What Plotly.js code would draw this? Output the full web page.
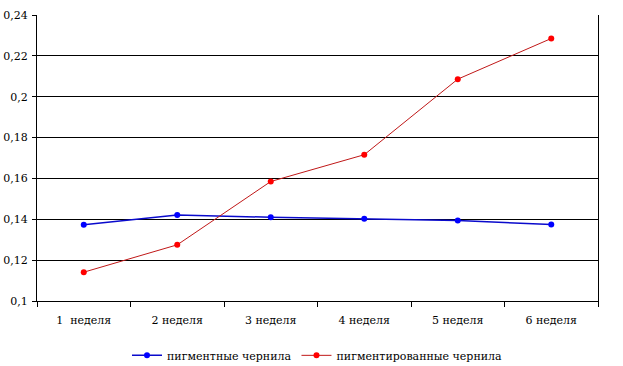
<!DOCTYPE html>
<html>
<head>
<meta charset="utf-8">
<script src="https://cdn.plot.ly/plotly-3.0.1.min.js"></script>
<style>html,body{margin:0;padding:0;background:#fff;}#chart{width:623px;height:366px;}</style>
</head>
<body>
<div id="chart"></div>
<script>
var categories = ["1\u00a0 неделя", "2 неделя", "3 неделя", "4 неделя", "5 неделя", "6 неделя"];
var pigmentInk = [0.1373, 0.1421, 0.1410, 0.1403, 0.1394, 0.1374];
var pigmentedInk = [0.1141, 0.1275, 0.1585, 0.1716, 0.2086, 0.2285];
var seriesNames = ["пигментные чернила", "пигментированные чернила"];
var yTickVals = [0.1, 0.12, 0.14, 0.16, 0.18, 0.2, 0.22, 0.24];
var yTickText = ["0,1", "0,12", "0,14", "0,16", "0,18", "0,2", "0,22", "0,24"];

var font = {family: "DejaVu Serif, Liberation Serif, Times New Roman, serif", size: 11, color: "#000"};

var traces = [
  {x: categories, y: pigmentInk, name: seriesNames[0], type: "scatter", mode: "lines+markers",
   line: {color: "#0a0acc", width: 1.5}, marker: {color: "#0000ff", size: 6, symbol: "circle"}},
  {x: categories, y: pigmentedInk, name: seriesNames[1], type: "scatter", mode: "lines+markers",
   line: {color: "#c01818", width: 1}, marker: {color: "#ff0000", size: 6, symbol: "circle"}}
];

var layout = {
  width: 623, height: 366,
  margin: {l: 37, r: 25, t: 15, b: 65, autoexpand: false},
  paper_bgcolor: "#fff", plot_bgcolor: "#fff",
  font: font,
  showlegend: true,
  legend: {orientation: "h", x: 0.5, xanchor: "center", y: -0.19, yanchor: "middle",
           font: font, itemwidth: 30, tracegroupgap: 0},
  xaxis: {type: "category", range: [-0.5, 5.5], tickson: "boundaries", ticks: "outside", ticklen: 5, tickcolor: "#000",
          showline: true, linecolor: "#000", linewidth: 1, showgrid: false, zeroline: false,
          ticklabelstandoff: 9, tickfont: font, fixedrange: true},
  yaxis: {range: [0.1, 0.24], tickvals: yTickVals, ticktext: yTickText, ticks: "outside", ticklen: 4,
          tickcolor: "#000", showline: true, linecolor: "#000", linewidth: 1, mirror: true,
          showgrid: true, gridcolor: "#000", gridwidth: 1, zeroline: false, tickfont: font,
          ticklabelstandoff: 2, fixedrange: true}
};

Plotly.newPlot("chart", traces, layout, {displayModeBar: false, staticPlot: true});
</script>
</body>
</html>
